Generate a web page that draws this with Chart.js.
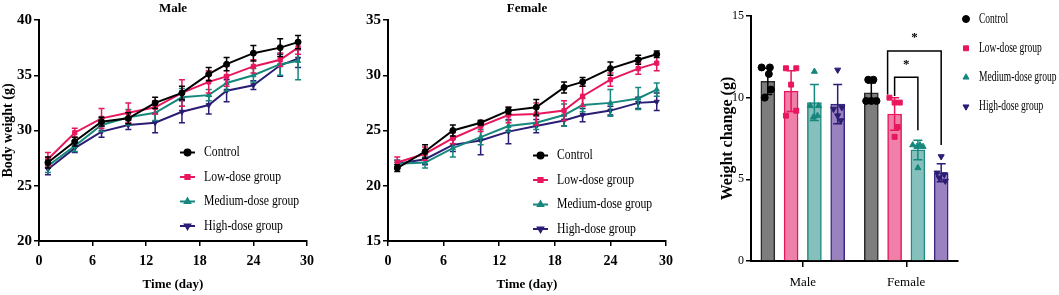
<!DOCTYPE html>
<html>
<head>
<meta charset="utf-8">
<script src="https://cdn.jsdelivr.net/npm/chart.js"></script>
<style>
  body { margin: 0; background: #fff; width: 1059px; height: 295px; position: relative; overflow: hidden; }
  canvas { position: absolute; top: 0; }
</style>
</head>
<body>
<canvas id="maleChart" width="330" height="295" style="left:0;width:330px;height:295px"></canvas>
<canvas id="femaleChart" width="340" height="295" style="left:340px;width:340px;height:295px"></canvas>
<canvas id="barChart" width="369" height="295" style="left:690px;width:369px;height:295px"></canvas>
<script>
// ---- data ----
const groups = ['Control', 'Low-dose group', 'Medium-dose group', 'High-dose group'];
const days = [1, 4, 7, 10, 13, 16, 19, 21, 24, 27, 29];

const maleControl = [27.1, 29.0, 30.8, 31.1, 32.5, 33.4, 35.1, 36.0, 37.0, 37.5, 38.0];
const maleLow     = [27.4, 29.8, 31.1, 31.6, 32.1, 33.4, 34.4, 34.9, 35.8, 36.4, 37.5];
const maleMedium  = [26.8, 28.6, 30.5, 31.2, 31.6, 33.0, 33.2, 34.3, 35.0, 36.0, 36.3];
const maleHigh    = [26.5, 28.4, 29.9, 30.5, 30.7, 31.7, 32.3, 33.6, 34.1, 35.9, 36.5];
const maleControlSD = [0.5, 0.4, 0.4, 0.5, 0.5, 0.6, 0.6, 0.6, 0.7, 0.8, 0.6];
const maleLowSD     = [0.6, 0.4, 0.9, 0.9, 0.6, 1.2, 1.0, 0.9, 0.6, 0.6, 0.6];
const maleMediumSD  = [0.6, 0.5, 0.6, 0.7, 0.7, 0.8, 0.5, 0.7, 0.6, 1.0, 1.7];
const maleHighSD    = [0.5, 0.4, 0.5, 0.4, 0.9, 1.0, 0.8, 1.0, 0.4, 1.0, 0.8];

const femaleControl = [21.6, 23.1, 25.0, 25.7, 26.8, 27.1, 28.9, 29.4, 30.6, 31.4, 31.9];
const femaleLow     = [22.1, 22.9, 24.3, 25.4, 26.4, 26.5, 26.8, 28.1, 29.6, 30.6, 31.1];
const femaleMedium  = [22.0, 22.1, 23.4, 24.4, 25.4, 25.7, 26.4, 27.3, 27.5, 27.9, 28.7];
const femaleHigh    = [22.0, 22.4, 23.7, 24.1, 24.9, 25.4, 25.9, 26.4, 26.8, 27.5, 27.6];
const femaleControlSD = [0.3, 0.6, 0.5, 0.2, 0.3, 0.7, 0.5, 0.4, 0.6, 0.4, 0.3];
const femaleLowSD     = [0.5, 0.6, 0.5, 0.5, 0.7, 1.0, 0.9, 0.9, 0.6, 0.5, 0.7];
const femaleMediumSD  = [0.3, 0.5, 0.8, 0.7, 0.5, 0.6, 1.0, 0.6, 1.2, 1.0, 0.6];
const femaleHighSD    = [0.3, 0.5, 0.6, 1.3, 1.1, 0.6, 0.5, 0.6, 0.4, 0.5, 0.8];

const sexes = ['Male', 'Female'];
const maleMean   = [11.0, 10.4, 9.7, 9.6];
const femaleMean = [10.3, 9.0, 6.8, 5.4];
const maleSD     = [0.8, 1.25, 1.1, 1.2];
const femaleSD   = [0.6, 1.0, 0.6, 0.55];
const maleDots = [
  [11.85, 11.85, 11.45, 10.5, 10.0],
  [11.8, 11.8, 10.8, 8.9, 9.2],
  [11.6, 9.5, 9.5, 8.8, 8.9],
  [11.7, 9.3, 9.4, 8.9, 8.6]
];
const femaleDots = [
  [11.1, 11.1, 9.8, 9.8, 9.8],
  [10.0, 9.7, 9.7, 8.2, 7.6],
  [7.1, 7.0, 7.1, 7.0, 5.7],
  [6.4, 5.4, 5.3, 5.1, 4.9]
];
// horizontal jitter of individual points (fraction of a category)
const maleJitter = [
  [-0.06, 0.02, 0.01, 0.03, -0.03],
  [-0.05, 0.05, 0, -0.05, 0.05],
  [0, -0.04, 0.04, -0.01, 0.03],
  [0, -0.04, 0.04, 0, 0.03]
];
const femaleJitter = [
  [-0.03, 0.02, -0.05, 0, 0.05],
  [-0.05, 0, 0.05, 0.03, 0],
  [-0.05, -0.01, 0.02, 0.05, 0],
  [0, -0.04, 0.03, -0.02, 0.04]
];
// significance: female group pairs, bracket height, leg ends
const sigPairs = [[1, 2], [1, 3]];
const sigHeights = [11.25, 12.85];
const sigLegEnds = [[10.1, 8.0], [10.2, 7.1]];
const sigLabels = ['*', '*'];

// ---- styles ----
const lineColors = ['#000000', '#e8175d', '#16877c', '#2b1d74'];
const barFills = ['#7d7d7d', '#ee80a9', '#86c0bc', '#9a81bf'];
const barBorders = ['#2a2a2a', '#e8175d', '#1f8a82', '#3a2a84'];
const pointStyles = ['circle', 'rect', 'triangle', 'triangle'];
const pointRotations = [0, 0, 0, 180];
const SERIF = "'Liberation Serif', 'Times New Roman', serif";

Chart.defaults.font.family = SERIF;
Chart.defaults.color = '#000';

function drawMarker(ctx, style, rot, r, x, y) {
  if (Chart.helpers && Chart.helpers.drawPoint) {
    Chart.helpers.drawPoint(ctx, { pointStyle: style, rotation: rot, radius: r, borderWidth: 1 }, x, y);
  } else {
    ctx.beginPath(); ctx.arc(x, y, r, 0, Math.PI * 2); ctx.fill();
  }
}

function squishText(ctx, text, x, y, sx) {
  ctx.save();
  ctx.translate(x, y);
  ctx.scale(sx, 1);
  ctx.fillText(text, 0, 0);
  ctx.restore();
}

// error bars (SD) for any dataset carrying an `errors` array
const errorBars = {
  id: 'errorBars',
  afterDatasetDraw(chart, args) {
    const ds = chart.data.datasets[args.index];
    if (!ds.errors) return;
    const meta = args.meta;
    const yScale = chart.scales[meta.yAxisID];
    const ctx = chart.ctx;
    const cap = ds.capWidth || 3;
    ctx.save();
    ctx.strokeStyle = ds.errorColor || ds.borderColor;
    ctx.lineWidth = 1.5;
    meta.data.forEach((el, i) => {
      const d = ds.data[i];
      const v = typeof d === 'object' ? d.y : d;
      const e = ds.errors[i];
      const top = yScale.getPixelForValue(v + e);
      const bot = yScale.getPixelForValue(v - e);
      ctx.beginPath();
      ctx.moveTo(el.x, top); ctx.lineTo(el.x, bot);
      ctx.moveTo(el.x - cap, top); ctx.lineTo(el.x + cap, top);
      ctx.moveTo(el.x - cap, bot); ctx.lineTo(el.x + cap, bot);
      ctx.stroke();
    });
    ctx.restore();
  }
};

const panelTitle = {
  id: 'panelTitle',
  afterDraw(chart, args, o) {
    if (!o.text) return;
    const { ctx, chartArea } = chart;
    ctx.save();
    ctx.font = 'bold 13px ' + SERIF;
    ctx.fillStyle = '#000';
    ctx.textAlign = 'center';
    ctx.textBaseline = 'middle';
    ctx.fillText(o.text, (chartArea.left + chartArea.right) / 2, o.y);
    ctx.restore();
  }
};

const innerLegend = {
  id: 'innerLegend',
  afterDraw(chart, args, o) {
    if (!o.rows) return;
    const ctx = chart.ctx;
    ctx.save();
    ctx.font = o.size + 'px ' + SERIF;
    ctx.textBaseline = 'middle';
    ctx.textAlign = 'left';
    groups.forEach((g, j) => {
      const y = o.rows[j];
      ctx.strokeStyle = lineColors[j];
      ctx.fillStyle = lineColors[j];
      if (o.line) {
        ctx.lineWidth = 2;
        ctx.beginPath(); ctx.moveTo(o.x, y); ctx.lineTo(o.x + 15, y); ctx.stroke();
        drawMarker(ctx, pointStyles[j], pointRotations[j], 3, o.x + 7.5, y);
      } else {
        drawMarker(ctx, pointStyles[j], pointRotations[j], 3.5, o.x, y);
      }
      ctx.fillStyle = '#000';
      squishText(ctx, g, o.textX, y, o.squish);
    });
    ctx.restore();
  }
};

function lineChart(id, title, values, errors, yMin, yMax, cfg) {
  return new Chart(document.getElementById(id), {
    type: 'line',
    data: {
      datasets: groups.map((g, j) => ({
        label: g,
        data: days.map((d, i) => ({ x: d, y: values[j][i] })),
        errors: errors[j],
        borderColor: lineColors[j],
        backgroundColor: lineColors[j],
        borderWidth: 2,
        pointStyle: pointStyles[j],
        pointRotation: pointRotations[j],
        pointRadius: 3,
        pointBorderWidth: 1,
        tension: 0
      }))
    },
    options: {
      responsive: false,
      animation: false,
      layout: { padding: { left: 0, right: cfg.padRight, top: 20, bottom: 0 } },
      plugins: {
        legend: { display: false },
        tooltip: { enabled: false },
        panelTitle: { text: title, y: 8.5 },
        innerLegend: { rows: cfg.legendRows, x: cfg.legendX, textX: cfg.legendX + 24, size: 15, squish: 0.78, line: true }
      },
      scales: {
        x: {
          type: 'linear', min: 0, max: 30,
          ticks: { stepSize: 6, font: { size: 14, weight: 'bold' }, padding: 7 },
          grid: { drawOnChartArea: false, tickLength: 5, color: '#000', lineWidth: 1.5 },
          border: { color: '#000', width: 2 },
          title: { display: true, text: 'Time (day)', font: { size: 13, weight: 'bold' }, padding: { top: 0, bottom: 3 } },
          afterFit(s) { s.height = 54; }
        },
        y: {
          min: yMin, max: yMax,
          ticks: { stepSize: 5, font: { size: 15, weight: 'bold' }, padding: 2 },
          grid: { drawOnChartArea: false, tickLength: 5, color: '#000', lineWidth: 1.5 },
          border: { color: '#000', width: 2 },
          title: { display: !!cfg.yTitle, text: cfg.yTitle || '', font: { size: 14, weight: 'bold' }, padding: 0 },
          afterFit(s) { s.width = cfg.yWidth; }
        }
      }
    },
    plugins: [errorBars, innerLegend, panelTitle]
  });
}

lineChart('maleChart', 'Male',
  [maleControl, maleLow, maleMedium, maleHigh],
  [maleControlSD, maleLowSD, maleMediumSD, maleHighSD],
  20, 40,
  { padRight: 23, yWidth: 39, yTitle: 'Body weight (g)', legendX: 180, legendRows: [152.5, 177, 201.5, 226] });

lineChart('femaleChart', 'Female',
  [femaleControl, femaleLow, femaleMedium, femaleHigh],
  [femaleControlSD, femaleLowSD, femaleMediumSD, femaleHighSD],
  15, 35,
  { padRight: 14, yWidth: 48, legendX: 193, legendRows: [155.5, 180, 204.5, 229] });

// ---- bar chart with individual points (sex index on a linear axis) ----
const slot = 0.9 / groups.length;
const groupOffset = j => (j - 1.5) * slot;

const sigBrackets = {
  id: 'sigBrackets',
  afterDatasetsDraw(chart) {
    const { ctx } = chart;
    const y = chart.scales.y;
    ctx.save();
    ctx.strokeStyle = '#000';
    ctx.lineWidth = 1.5;
    ctx.fillStyle = '#000';
    ctx.font = 'bold 13px ' + SERIF;
    ctx.textAlign = 'center';
    ctx.textBaseline = 'middle';
    sigPairs.forEach((p, k) => {
      const a = chart.getDatasetMeta(p[0]).data[1];
      const b = chart.getDatasetMeta(p[1]).data[1];
      const xa = k === 0 ? a.x : a.x - a.width / 2;
      const xb = b.x;
      const yh = y.getPixelForValue(sigHeights[k]);
      ctx.beginPath();
      ctx.moveTo(xa, y.getPixelForValue(sigLegEnds[k][0]));
      ctx.lineTo(xa, yh);
      ctx.lineTo(xb, yh);
      ctx.lineTo(xb, y.getPixelForValue(sigLegEnds[k][1]));
      ctx.stroke();
      ctx.fillText(sigLabels[k], (xa + xb) / 2, yh - 13);
    });
    ctx.restore();
  }
};

const barDatasets = groups.map((g, j) => ({
  type: 'bar',
  label: g,
  data: [{ x: 0 + groupOffset(j), y: maleMean[j] }, { x: 1 + groupOffset(j), y: femaleMean[j] }],
  errors: [maleSD[j], femaleSD[j]],
  errorColor: lineColors[j],
  capWidth: 4.5,
  backgroundColor: barFills[j],
  borderColor: barBorders[j],
  borderWidth: 1.5,
  grouped: false,
  barThickness: 14,
  order: 2
}));

const dotDatasets = groups.map((g, j) => ({
  type: 'scatter',
  label: g + ' points',
  data: maleDots[j].map((v, k) => ({ x: 0 + groupOffset(j) + maleJitter[j][k], y: v }))
    .concat(femaleDots[j].map((v, k) => ({ x: 1 + groupOffset(j) + femaleJitter[j][k], y: v }))),
  backgroundColor: lineColors[j],
  borderColor: lineColors[j],
  pointStyle: pointStyles[j],
  pointRotation: pointRotations[j],
  pointRadius: 3.5,
  borderWidth: 1,
  order: 0
}));

new Chart(document.getElementById('barChart'), {
  type: 'bar',
  data: { datasets: barDatasets.concat(dotDatasets) },
  options: {
    responsive: false,
    animation: false,
    layout: { padding: { left: 28, right: 101, top: 16, bottom: 0 } },
    plugins: {
      legend: { display: false },
      tooltip: { enabled: false },
      innerLegend: { rows: [19, 48.3, 77.3, 106.7], x: 276, textX: 289, size: 14, squish: 0.68, line: false }
    },
    scales: {
      x: {
        type: 'linear', min: -0.5, max: 1.5, offset: false,
        afterBuildTicks(s) { s.ticks = sexes.map((n, i) => ({ value: i })); },
        ticks: { font: { size: 13 }, padding: 8, callback: v => sexes[v] },
        grid: { offset: false, drawOnChartArea: false, tickLength: 6, color: '#000', lineWidth: 1.5 },
        border: { color: '#000', width: 2 },
        afterFit(s) { s.height = 34; }
      },
      y: {
        min: 0, max: 15,
        ticks: { stepSize: 5, font: { size: 12 }, padding: 2 },
        grid: { drawOnChartArea: false, tickLength: 5, color: '#000', lineWidth: 1.5 },
        border: { color: '#000', width: 2 },
        title: { display: true, text: 'Weight change (g)', font: { size: 16, weight: 'bold' }, padding: 0 },
        afterFit(s) { s.width = 33; }
      }
    }
  },
  plugins: [errorBars, sigBrackets, innerLegend]
});
</script>
</body>
</html>
